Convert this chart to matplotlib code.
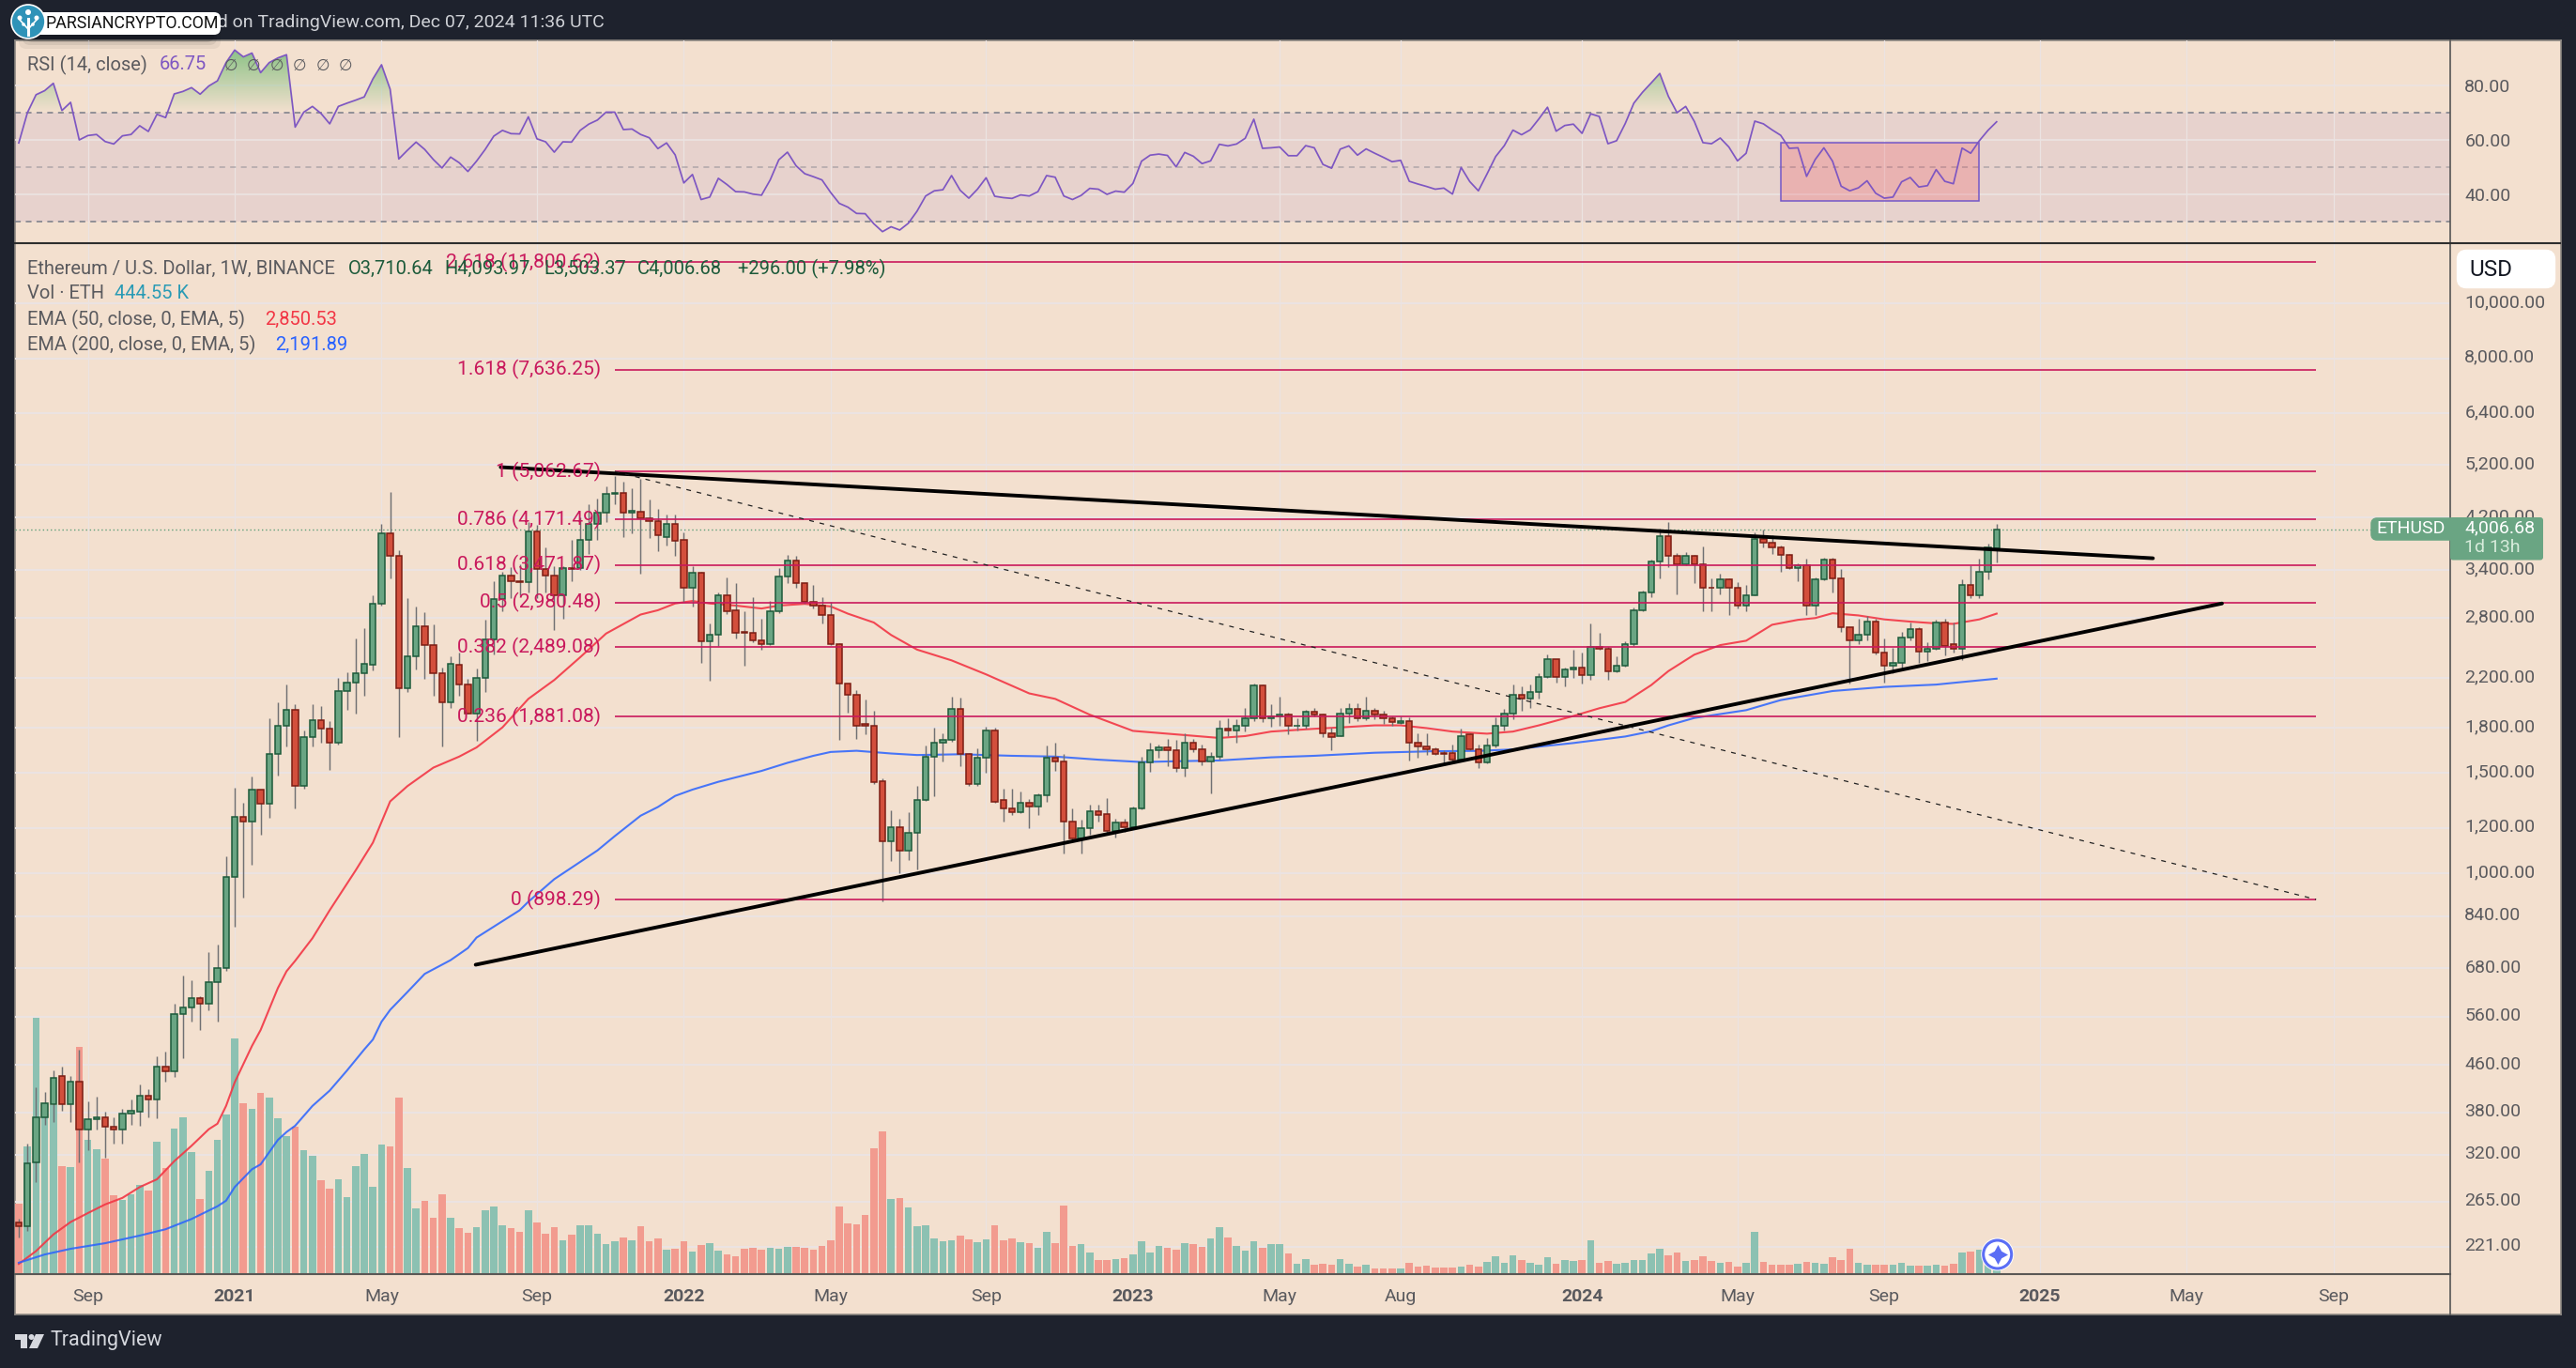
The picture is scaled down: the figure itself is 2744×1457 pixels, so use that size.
#!/usr/bin/python3
# -*- coding: utf-8 -*-

import numpy as np
import matplotlib
matplotlib.use('Agg')
import matplotlib.pyplot as plt

from matplotlib.path import Path
from matplotlib.patches import Rectangle, Circle, FancyBboxPatch, PathPatch, Polygon
from matplotlib.ticker import NullLocator
from matplotlib.transforms import ScaledTranslation

plt.rcParams['font.family'] = ['Roboto', 'DejaVu Sans']

W, H = 2744, 1457

# weekly candles, ETH/USD, one value per week starting mid July 2020
opens = [
    244, 240, 311, 373, 393, 440, 393, 430, 354, 369,
    373, 359, 354, 378, 381, 407, 400, 457, 449, 565,
    581, 604, 590, 643, 680, 983, 1253, 1230, 1400, 1320,
    1620, 1815, 1930, 1420, 1730, 1855, 1790, 1695, 2085, 2155,
    2240, 2315, 2965, 3940, 3600, 2110, 2400, 2710, 2515, 2240,
    1990, 2315, 2140, 1900, 2200, 2570, 3025, 3320, 3250, 3235,
    3975, 3420, 3330, 3065, 3430, 3430, 3840, 4090, 4290, 4630,
    4640, 4280, 4310, 4195, 4135, 3880, 4090, 3845, 3160, 3360,
    2553, 2620, 3070, 2890, 2650, 2640, 2560, 2520, 2880, 3310,
    3530, 3220, 2990, 2940, 2830, 2520, 2150, 2050, 1825, 1815,
    1450, 1135, 1205, 1095, 1175, 1345, 1600, 1690, 1710, 1940,
    1620, 1430, 1590, 1775, 1345, 1300, 1280, 1330, 1310, 1370,
    1595, 1570, 1230, 1150, 1200, 1285, 1270, 1185, 1225, 1205,
    1300, 1560, 1640, 1660, 1640, 1530, 1690, 1650, 1570, 1600,
    1790, 1780, 1810, 1870, 2130, 1870, 1885, 1895, 1810, 1815,
    1920, 1895, 1755, 1740, 1905, 1940, 1865, 1925, 1895, 1865,
    1830, 1850, 1690, 1665, 1650, 1625, 1625, 1580, 1750, 1650,
    1560, 1670, 1810, 1905, 2050, 2025, 2075, 2205, 2370, 2205,
    2275, 2295, 2225, 2490, 2475, 2260, 2310, 2520, 2885, 3110,
    3520, 3905, 3605, 3475, 3605, 3475, 3170, 3160, 3270, 3160,
    2945, 3075, 3850, 3800, 3730, 3610, 3430, 3460, 2945, 3270,
    3550, 3290, 2700, 2560, 2620, 2765, 2435, 2310, 2340, 2590,
    2680, 2445, 2475, 2755, 2520, 2475, 3195, 3075, 3370, 3710.64,
]
highs = [
    247, 335, 421, 412, 450, 457, 440, 490, 398, 405,
    381, 373, 385, 400, 425, 418, 476, 485, 590, 660,
    647, 608, 725, 750, 1068, 1410, 1330, 1475, 1400, 1865,
    1990, 2140, 1980, 1775, 1980, 1965, 1845, 2195, 2250, 2580,
    2690, 3065, 4095, 4660, 3690, 3030, 2930, 2865, 2730, 2290,
    2400, 2440, 2190, 2285, 2780, 3245, 3380, 3435, 3480, 4120,
    4075, 3720, 3455, 3455, 3845, 4200, 4440, 4540, 4775, 4970,
    4850, 4725, 4920, 4520, 4360, 4260, 4250, 3960, 3450, 3370,
    2740, 3110, 3300, 3220, 2880, 3050, 2790, 3000, 3430, 3620,
    3600, 3230, 3195, 3050, 2985, 2530, 2150, 2095, 2015, 1925,
    1465, 1290, 1245, 1280, 1420, 1675, 1795, 1760, 2040, 2030,
    1625, 1655, 1805, 1795, 1405, 1405, 1390, 1350, 1380, 1675,
    1690, 1620, 1300, 1240, 1315, 1315, 1355, 1245, 1245, 1310,
    1600, 1690, 1680, 1720, 1710, 1755, 1720, 1680, 1630, 1855,
    1870, 1860, 1950, 2150, 2140, 1975, 2035, 1910, 1870, 1930,
    1950, 1905, 1800, 1950, 1985, 1985, 2040, 1950, 1925, 1885,
    1885, 1875, 1760, 1755, 1660, 1640, 1680, 1790, 1760, 1680,
    1725, 1875, 1940, 2140, 2125, 2140, 2240, 2415, 2375, 2295,
    2460, 2440, 2735, 2640, 2490, 2400, 2550, 2920, 3125, 3540,
    4025, 4130, 3635, 3660, 3620, 3745, 3290, 3355, 3290, 3240,
    3195, 3960, 4010, 3910, 3750, 3630, 3490, 3560, 3300, 3570,
    3570, 3420, 2700, 2795, 2820, 2790, 2580, 2480, 2645, 2745,
    2695, 2535, 2780, 2790, 2755, 3270, 3460, 3560, 3775, 4093.97,
]
lows = [
    229, 235, 287, 362, 365, 382, 366, 310, 326, 354,
    316, 335, 335, 362, 360, 372, 371, 430, 438, 473,
    548, 530, 574, 548, 672, 805, 905, 1035, 1165, 1250,
    1480, 1665, 1300, 1405, 1665, 1690, 1515, 1680, 1930, 1905,
    2045, 2265, 2950, 3290, 1730, 2075, 2275, 2190, 2045, 1665,
    1945, 2045, 1900, 1705, 2080, 2415, 2880, 3035, 3075, 3105,
    3035, 3105, 2665, 2790, 3245, 3400, 3625, 3845, 4130, 4440,
    3890, 3940, 3355, 3865, 3675, 3760, 3600, 2985, 2930, 2335,
    2170, 2500, 2850, 2580, 2310, 2540, 2460, 2510, 2860, 3230,
    3160, 2970, 2915, 2735, 2510, 1710, 1910, 1715, 1750, 1430,
    890, 1050, 1000, 1055, 1015, 1340, 1365, 1570, 1700, 1540,
    1420, 1420, 1500, 1330, 1230, 1265, 1275, 1200, 1265, 1335,
    1510, 1080, 1135, 1080, 1165, 1230, 1165, 1155, 1180, 1200,
    1295, 1505, 1590, 1540, 1505, 1475, 1630, 1545, 1380, 1580,
    1735, 1695, 1770, 1850, 1840, 1805, 1815, 1750, 1780, 1790,
    1880, 1730, 1640, 1735, 1830, 1850, 1855, 1860, 1825, 1815,
    1825, 1575, 1590, 1610, 1610, 1545, 1570, 1570, 1640, 1525,
    1555, 1660, 1780, 1860, 1925, 1945, 2020, 2195, 2160, 2125,
    2195, 2150, 2185, 2460, 2180, 2250, 2300, 2500, 2880, 3050,
    3290, 3445, 3080, 3460, 3220, 2880, 2880, 3080, 2830, 2915,
    2880, 3065, 3720, 3625, 3380, 3410, 3250, 2840, 2840, 3260,
    3110, 2650, 2150, 2525, 2560, 2420, 2160, 2240, 2275, 2560,
    2340, 2350, 2460, 2410, 2440, 2365, 3035, 3040, 3270, 3503.37,
]
closes = [
    240, 309, 373, 394, 437, 393, 430, 354, 369, 373,
    359, 354, 378, 382, 407, 400, 457, 449, 565, 581,
    604, 590, 643, 680, 983, 1253, 1230, 1400, 1320, 1620,
    1815, 1930, 1420, 1730, 1855, 1790, 1695, 2085, 2155, 2240,
    2325, 2965, 3940, 3600, 2110, 2400, 2710, 2515, 2240, 1990,
    2325, 2140, 1900, 2200, 2570, 3025, 3320, 3250, 3235, 3975,
    3420, 3330, 3065, 3430, 3415, 3840, 4090, 4290, 4620, 4650,
    4285, 4320, 4195, 4135, 3915, 4090, 3830, 3160, 3360, 2553,
    2620, 3070, 2880, 2640, 2640, 2560, 2520, 2880, 3310, 3530,
    3220, 2990, 2940, 2830, 2520, 2150, 2050, 1815, 1815, 1445,
    1135, 1205, 1095, 1175, 1345, 1600, 1690, 1710, 1940, 1620,
    1430, 1590, 1775, 1335, 1300, 1280, 1330, 1310, 1370, 1595,
    1570, 1230, 1150, 1200, 1285, 1265, 1185, 1225, 1205, 1300,
    1560, 1640, 1660, 1640, 1530, 1690, 1650, 1570, 1600, 1790,
    1780, 1810, 1870, 2130, 1870, 1885, 1895, 1810, 1815, 1920,
    1895, 1755, 1730, 1905, 1940, 1865, 1925, 1895, 1865, 1840,
    1850, 1690, 1665, 1650, 1620, 1620, 1580, 1740, 1650, 1560,
    1670, 1810, 1905, 2050, 2025, 2075, 2205, 2370, 2205, 2275,
    2295, 2225, 2490, 2475, 2260, 2310, 2520, 2885, 3110, 3520,
    3905, 3605, 3475, 3605, 3475, 3160, 3160, 3270, 3160, 2945,
    3075, 3850, 3790, 3730, 3610, 3430, 3460, 2945, 3270, 3550,
    3290, 2700, 2560, 2620, 2765, 2435, 2310, 2340, 2590, 2680,
    2445, 2475, 2755, 2500, 2475, 3195, 3075, 3370, 3730, 4006.68,
]
# volume in thousands of ETH
volumes = [
    2220, 4050, 8180, 4980, 5380, 3420, 3390, 7230, 4280, 3960,
    3660, 2490, 2340, 2530, 2820, 2640, 4200, 3360, 4620, 4980,
    3870, 2370, 3270, 4260, 5070, 7500, 5430, 5250, 5760, 5610,
    4950, 4380, 4680, 3930, 3750, 2970, 2700, 3000, 2430, 3420,
    3810, 2760, 4110, 4050, 5610, 3360, 2070, 2310, 1770, 2520,
    1770, 1440, 1290, 1470, 2010, 2130, 1530, 1440, 1320, 2010,
    1620, 1260, 1470, 1050, 1230, 1530, 1530, 1260, 930, 1020,
    1140, 1050, 1500, 1020, 1110, 750, 780, 1020, 690, 900,
    960, 720, 600, 540, 780, 810, 750, 810, 780, 840,
    840, 810, 750, 870, 1050, 2130, 1590, 1560, 1860, 3990,
    4530, 2370, 2400, 2100, 1500, 1530, 1110, 1020, 1050, 1200,
    1080, 990, 1080, 1530, 1050, 1110, 990, 960, 810, 1320,
    960, 2160, 870, 930, 660, 420, 420, 450, 480, 600,
    1020, 660, 870, 810, 750, 960, 930, 840, 1110, 1470,
    1140, 870, 720, 1020, 810, 930, 930, 630, 300, 450,
    270, 300, 270, 450, 300, 210, 270, 150, 150, 150,
    150, 330, 210, 240, 180, 180, 180, 210, 270, 210,
    360, 540, 330, 570, 420, 330, 270, 510, 300, 420,
    390, 420, 1050, 330, 390, 300, 330, 420, 420, 630,
    780, 570, 660, 390, 420, 540, 390, 330, 360, 210,
    330, 1320, 360, 270, 270, 270, 300, 360, 330, 300,
    510, 420, 780, 330, 270, 270, 270, 270, 330, 240,
    240, 240, 270, 240, 300, 660, 690, 750, 780, 444.55,
]
rsi_values = [
    59, 70.1, 76.7, 78.2, 80.9, 70.9, 73.9, 60.1, 61.7, 62.1,
    59.5, 58.6, 61.6, 62.1, 65.3, 63.2, 69.5, 68.3, 77, 77.9,
    79.3, 76.9, 79.9, 81.8, 88.5, 93.1, 90.6, 92, 84.8, 88.5,
    90.2, 91.4, 64.8, 70.3, 72.4, 69.8, 66, 72.4, 73.6, 74.7,
    75.9, 82.5, 87.7, 78.7, 53.1, 56.3, 59.3, 56.6, 52.9, 49.8,
    53.8, 51.7, 48.5, 52.3, 56.6, 61.5, 63.6, 62.4, 62.3, 68.6,
    60.5, 59.4, 55.6, 59.4, 59.3, 63.6, 65.9, 67.4, 70.3, 70.3,
    63.9, 64.1, 62.1, 60.9, 56.9, 59, 54.6, 44.3, 47.4, 38.2,
    39.1, 46, 43.7, 41.1, 41, 40.2, 39.8, 45.4, 52.8, 55.6,
    50.6, 47.7, 46.6, 45.4, 40.8, 36.8, 35.4, 33.1, 33, 29.3,
    26.4, 28.2, 27, 29.5, 33.9, 39.5, 41.4, 41.8, 47, 41.6,
    38.7, 42, 46.2, 39.4, 38.9, 38.6, 39.9, 39.5, 41.1, 47,
    46.4, 39.5, 38.2, 39.7, 42.3, 42, 40.1, 41.3, 40.9, 44.1,
    52.3, 54.5, 54.9, 54.4, 50.2, 55.5, 54.1, 51.4, 52.4, 58.5,
    57.9, 58.6, 60.7, 67.7, 57, 57.2, 57.5, 54.3, 54.3, 58,
    57.2, 51.1, 49.7, 56.7, 57.9, 54.5, 56.8, 55.2, 53.7, 52.1,
    52.6, 44.9, 43.9, 43, 42, 42.4, 40.2, 50, 44.8, 41.4,
    47.6, 54, 58, 63.7, 62, 63.8, 67.8, 72.1, 63.3, 65.4,
    65.9, 62.5, 69.7, 68.7, 58.7, 59.8, 66.1, 73.6, 77.6, 81,
    84.5, 76.1, 70.1, 72.4, 66.9, 59.1, 58.7, 60.8, 57.5, 52.4,
    55.2, 67, 66, 63.8, 61.8, 57, 57.2, 46.7, 52.9, 57.2,
    52.3, 43.1, 41.4, 42.5, 45.1, 40.5, 38.7, 39.1, 44.7, 46.3,
    42.8, 43.3, 49.2, 44.9, 44, 57.1, 55.2, 59.8, 63.6, 66.75,
]

ema50_weeks = [0, 2, 4, 6, 8, 10, 12, 14, 16, 18, 20, 22, 23, 24, 25, 27, 28, 30, 31, 32, 34,
               36, 39, 41, 43, 45, 48, 51, 53, 56, 59, 62, 65, 68, 72, 74, 76, 78, 80, 83, 86,
               88, 91, 94, 96, 99, 101, 104, 108, 112, 117, 120, 124, 129, 135, 139, 142, 145,
               150, 153, 157, 160, 163, 166, 170, 173, 176, 180, 183, 186, 189, 191, 194, 197,
               200, 203, 206, 208, 210, 213, 216, 219, 222, 224, 227, 229]
ema50_values = [206, 217, 232, 244, 253, 262, 269, 281, 290, 312, 332, 355, 363, 390, 429, 497, 530, 628, 672, 701, 768,
                860, 1010, 1130, 1335, 1420, 1530, 1600, 1660, 1800, 2020, 2180, 2390, 2630, 2840, 2890, 2970, 3000, 2970, 2945, 2910,
                2945, 2965, 2935, 2850, 2750, 2615, 2465, 2360, 2230, 2065, 2020, 1895, 1775, 1745, 1725, 1738, 1770,
                1790, 1800, 1815, 1815, 1795, 1770, 1755, 1770, 1815, 1885, 1945, 1995, 2135, 2260, 2415, 2510,
                2555, 2725, 2780, 2800, 2855, 2830, 2785, 2760, 2740, 2735, 2785, 2850.53]
ema200_weeks = [0, 3, 6, 10, 14, 17, 20, 23, 24, 25, 27, 28, 30, 31, 32, 34, 36, 38, 40, 41, 42, 43, 45, 47, 50, 52, 53,
                58, 59, 62, 67, 69, 72, 74, 76, 78, 81, 86, 89, 92, 94, 97, 101, 104, 109, 115, 120, 125, 130, 134,
                139, 145, 150, 157, 164, 169, 173, 180, 186, 189, 191, 194, 200, 204, 210, 216, 222, 224, 229]
ema200_values = [207, 214, 219, 224, 231, 237, 247, 260, 266, 281, 302, 308, 340, 351, 360, 390, 415, 450, 490, 510, 548, 575, 618, 665, 703, 738, 770,
                 860, 890, 975, 1095, 1160, 1260, 1305, 1365, 1400, 1445, 1510, 1560, 1605, 1630, 1638, 1620, 1610, 1615, 1605, 1600, 1580, 1565, 1570,
                 1575, 1595, 1605, 1625, 1635, 1637, 1647, 1690, 1735, 1772, 1815, 1870, 1930, 2010, 2085, 2120, 2140, 2155, 2191.89]

fib_levels = [11800.62, 7636.25, 5062.67, 4171.49, 3471.87, 2980.48, 2489.08, 1881.08, 898.29]
fib_labels = ['2.618 (11,800.62)', '1.618 (7,636.25)', '1 (5,062.67)', '0.786 (4,171.49)', '0.618 (3,471.87)',
              '0.5 (2,980.48)', '0.382 (2,489.08)', '0.236 (1,881.08)', '0 (898.29)']
fib_start, fib_end = 69, 266

resistance_weeks = [55.8, 247.1]
resistance_prices = [5151, 3565]
support_weeks = [52.9, 255.1]
support_prices = [690, 2970]
diagonal_weeks = [69, 266]
diagonal_prices = [5062.67, 898.29]

price_ticks = [10000, 8000, 6400, 5200, 4200, 3400, 2800, 2200, 1800, 1500, 1200, 1000, 840, 680, 560, 460, 380, 320, 265, 221]
price_ticklabels = ['{:,.2f}'.format(p) for p in price_ticks]
rsi_ticks = [80, 60, 40]
rsi_ticklabels = ['80.00', '60.00', '40.00']
time_ticks = [8, 25, 42, 60, 77, 94, 112, 129, 146, 160, 181, 199, 216, 234, 251, 268]
time_ticklabels = ['Sep', '2021', 'May', 'Sep', '2022', 'May', 'Sep', '2023', 'May', 'Aug', '2024', 'May', 'Sep', '2025', 'May', 'Sep']

DARK = '#1e222d'
PEACH = '#f3e0cf'
GRID = '#ebe3e2'
FIB = '#c9195c'
TEXT = '#5a5a5e'
UP, UP_EDGE = '#6aa583', '#1c5a3a'
DOWN, DOWN_EDGE = '#d34f3c', '#7c1d13'
VOL_UP, VOL_DOWN = '#8cc1b2', '#f29b8f'
PURPLE = '#7e57c2'
FS = 14  # points, 100 dpi
FS_LEGEND = 14.5
FS_FIB = 15.1


def px_axes(left, top, right, bottom, zorder):
    a = fig.add_axes([left / W, 1 - bottom / H, (right - left) / W, (bottom - top) / H], zorder=zorder)
    return a


weeks = np.arange(len(closes))
o, h, l, c = [np.array(v, dtype=float) for v in (opens, highs, lows, closes)]
rising = c >= o
rsi = np.array(rsi_values)

xlim = (-0.435, 281.52)
# y limits of the price pane, log scale, top 259 px and bottom 1357 px
price_lim = (197.7, 12733)

fig = plt.figure(figsize=(W / 100, H / 100), dpi=100, facecolor=DARK)

# panel background
bg = px_axes(16, 43, 2727.5, 1400, 0)
bg.set_facecolor(PEACH)
bg.set_xticks([])
bg.set_yticks([])
for s in bg.spines.values():
    s.set_color('#8c8782')
    s.set_linewidth(1.2)

# grid of the price pane lies under the volume bars
grid_ax = px_axes(16, 259, 2610, 1357, 1)
grid_ax.patch.set_visible(False)
grid_ax.set_yscale('log')
grid_ax.set_xlim(xlim)
grid_ax.set_ylim(price_lim)
grid_ax.vlines(time_ticks, *price_lim, color=GRID, lw=0.9)
grid_ax.hlines(price_ticks, *xlim, color=GRID, lw=1.5)
grid_ax.axis('off')

# volume
vol = px_axes(16, 259, 2610, 1357, 2)
vol.patch.set_visible(False)
vol.bar(weeks, volumes, width=0.84, color=[VOL_UP if r else VOL_DOWN for r in rising], linewidth=0)
vol.set_xlim(xlim)
vol.set_ylim(-20, 32920)
vol.axis('off')

# price
ax = px_axes(16, 259, 2610, 1357, 3)
ax.patch.set_visible(False)
ax.set_yscale('log')
ax.plot(ema50_weeks, ema50_values, color='#f23645', lw=1.5, alpha=0.9, zorder=2)
ax.plot(ema200_weeks, ema200_values, color='#2962ff', lw=1.5, alpha=0.85, zorder=2)
ax.vlines(weeks, l, h, color='#707073', lw=1.05, zorder=3)
ax.bar(weeks, np.abs(c - o), bottom=np.minimum(o, c), width=0.68,
       color=[UP if r else DOWN for r in rising],
       edgecolor=[UP_EDGE if r else DOWN_EDGE for r in rising], linewidth=1.1, zorder=4)
ax.axhline(closes[-1], color='#5f9f7a', lw=1.0, ls=(0, (1, 2)), zorder=1)

ax.hlines(fib_levels, fib_start, fib_end, color=FIB, lw=1.2, zorder=5)
for level, label_text in zip(fib_levels, fib_labels):
    ax.annotate(label_text, (fib_start, level), xytext=(-10.5, 0), textcoords='offset points',
                ha='right', va='center', color=FIB, fontsize=FS_FIB, zorder=8)

ax.plot(resistance_weeks, resistance_prices, color='black', lw=2.8, solid_capstyle='round', zorder=6)
ax.plot(support_weeks, support_prices, color='black', lw=2.8, solid_capstyle='round', zorder=6)
ax.plot(diagonal_weeks, diagonal_prices, color='#222222', lw=0.9, ls=(0, (4, 5)), zorder=6)

ax.set_xlim(xlim)
ax.set_ylim(price_lim)
ax.yaxis.tick_right()
ax.set_yticks(price_ticks, price_ticklabels)
ax.yaxis.set_minor_locator(NullLocator())
ax.set_xticks(time_ticks, time_ticklabels)
ax.tick_params(axis='y', length=0, pad=11, labelsize=FS, labelcolor=TEXT)
ax.tick_params(axis='x', length=0, pad=10.5, labelsize=FS, labelcolor=TEXT)
for t in ax.get_xticklabels():
    if t.get_text().isdigit():
        t.set_fontweight('bold')
# price labels sit slightly above their grid line
nudge = ScaledTranslation(0, 2 / 72, fig.dpi_scale_trans)
for t in ax.get_yticklabels():
    t.set_transform(t.get_transform() + nudge)
for s in ['top', 'left', 'bottom']:
    ax.spines[s].set_visible(False)
ax.spines['right'].set_color('#555555')
ax.spines['right'].set_linewidth(1.2)

# RSI pane
rs = px_axes(16, 43, 2610, 259, 3)
rs.patch.set_visible(False)
rs.vlines(time_ticks, 22, 97, color=GRID, lw=0.9, zorder=1)
rs.axhspan(30, 70, color='#7e57c2', alpha=0.1, lw=0, zorder=0)
rs.hlines(rsi_ticks, *xlim, color=GRID, lw=1.2, zorder=1)
rs.axhline(70, color='#787b86', lw=1.1, ls=(0, (4, 3.5)), zorder=2)
rs.axhline(30, color='#787b86', lw=1.1, ls=(0, (4, 3.5)), zorder=2)
rs.axhline(50, color='#787b86', lw=1.1, ls=(0, (4, 3.5)), alpha=0.5, zorder=2)

# box on the consolidation
rs.add_patch(Rectangle((204, 37.6), 23, 21.4, facecolor='#f23645', alpha=0.2, lw=0, zorder=2))
rs.add_patch(Rectangle((204, 37.6), 23, 21.4, facecolor='none', edgecolor='#7357c8', lw=1.1, zorder=3))

# green shading above the 70 line
zone = rs.fill_between(weeks, rsi, 70, where=rsi > 70, interpolate=True, facecolor='none', lw=0)
shape = PathPatch(Path.make_compound_path(*zone.get_paths()), transform=rs.transData, facecolor='none', lw=0)
rs.add_patch(shape)
shade = np.zeros((64, 2, 4))
shade[..., 0], shade[..., 1], shade[..., 2] = 0.40, 0.72, 0.42
shade[..., 3] = np.linspace(0.75, 0.0, 64)[:, None]
im = rs.imshow(shade, extent=(xlim[0], xlim[1], 70, 93.5), aspect='auto', interpolation='bilinear', zorder=2)
im.set_clip_path(shape)

rs.plot(weeks, rsi, color=PURPLE, lw=1.25, zorder=4)
rs.set_xlim(xlim)
rs.set_ylim(22.17, 96.66)
rs.yaxis.tick_right()
rs.set_yticks(rsi_ticks, rsi_ticklabels)
rs.set_xticks([])
rs.tick_params(axis='y', length=0, pad=11, labelsize=FS, labelcolor=TEXT)
for s in ['top', 'left', 'bottom']:
    rs.spines[s].set_visible(False)
rs.spines['right'].set_color('#555555')
rs.spines['right'].set_linewidth(1.2)

# text, tags and marks that sit in screen coordinates
deco = px_axes(0, 0, W, H, 10)
deco.set_xlim(0, W)
deco.set_ylim(H, 0)
deco.axis('off')
deco.patch.set_visible(False)

deco.plot([16, 2727], [259, 259], color='#2e2e2e', lw=1.5)
deco.plot([16, 2610], [1357, 1357], color='#5b5855', lw=1.5)
deco.plot([2610, 2610], [1357, 1400], color='#555555', lw=1.2)


def label(x, y, s, color=TEXT, size=FS_LEGEND, **kw):
    deco.text(x, y, s, color=color, fontsize=size, va='center', **kw)


label(644, 24, 'Published on TradingView.com, Dec 07, 2024 11:36 UTC', color='#cfd1d6', ha='right', size=FS)

label(29, 69, 'RSI (14, close)')
label(170, 69, '66.75', color=PURPLE)
for x in [239, 263, 288, 312, 337, 361]:
    label(x, 70, '∅', size=12)

label(29, 286, 'Ethereum / U.S. Dollar, 1W, BINANCE')
ohlc_color = '#1c5a3a'
label(371, 286, 'O3,710.64', color=ohlc_color)
label(473, 286, 'H4,093.97', color=ohlc_color)
label(579, 286, 'L3,503.37', color=ohlc_color)
label(679, 286, 'C4,006.68', color=ohlc_color)
label(786, 286, '+296.00 (+7.98%)', color=ohlc_color)
label(29, 313, 'Vol · ETH')
label(122, 313, '444.55 K', color='#2a9bb5')
label(29, 340, 'EMA (50, close, 0, EMA, 5)')
label(282, 340, '2,850.53', color='#f23645')
label(29, 367, 'EMA (200, close, 0, EMA, 5)')
label(293, 367, '2,191.89', color='#2962ff')

# currency box
deco.add_patch(FancyBboxPatch((2621, 270), 97, 33, boxstyle='round,pad=0,rounding_size=6', facecolor='white', edgecolor='white', lw=6))
label(2630, 287, 'USD', color='#131722', size=17.5)

# last price tag
deco.add_patch(FancyBboxPatch((2528, 554), 90, 19, boxstyle='round,pad=0,rounding_size=4', facecolor=UP, edgecolor=UP, lw=4))
deco.add_patch(FancyBboxPatch((2610, 551), 99, 45.5, boxstyle='round,pad=0,rounding_size=3', facecolor=UP, edgecolor='none'))
label(2568, 563, 'ETHUSD', color='white', ha='center', size=FS)
label(2625, 562, '4,006.68', color='white', size=FS)
label(2625, 583, '1d 13h', color='#d8ecdc', size=FS)

# blue star mark at the end of the volume
deco.add_patch(Circle((2127.7, 1336), 17.5, facecolor='white', edgecolor='none', zorder=5))
deco.add_patch(Circle((2127.7, 1336), 15, facecolor='white', edgecolor='#5b6ef5', lw=2.2, zorder=6))
deco.scatter([2127.7], [1336], s=230, marker=(4, 1, 0), color='#5b6ef5', linewidths=0, zorder=7)

# watermark badge top left
for grow, alpha in [(10, 0.05), (6, 0.07), (3, 0.1)]:
    deco.add_patch(FancyBboxPatch((30 - grow, 20), 195 + 2 * grow, 22 + grow, boxstyle='round,pad=0,rounding_size=8',
                                  facecolor='black', edgecolor='none', alpha=alpha, zorder=20))
deco.add_patch(FancyBboxPatch((30, 13), 205, 24, boxstyle='round,pad=0,rounding_size=7', facecolor='white', edgecolor='none', zorder=21))
label(49, 25, 'PARSIANCRYPTO.COM', color='#111111', size=12.8, zorder=22)
deco.add_patch(Circle((30, 23), 18, facecolor='#2f93b8', edgecolor='white', lw=1.2, zorder=23))
deco.plot([30, 30], [20, 37], color='white', lw=2.2, zorder=24)
deco.plot([21, 30, 39], [21, 31, 21], color='white', lw=1.2, zorder=24)
for cx, cy, r in [(30, 13, 3), (21, 19, 2.5), (39, 19, 2.5), (25, 26, 1.8), (35, 26, 1.8)]:
    deco.add_patch(Circle((cx, cy), r, facecolor='white', edgecolor='none', zorder=24))

# TradingView logo
logo = '#d6d8de'
deco.add_patch(Polygon([(16, 1421), (29, 1421), (29, 1436), (22, 1436), (22, 1427), (16, 1427)], facecolor=logo, edgecolor='none'))
deco.add_patch(Circle((33.5, 1424), 3, facecolor=logo, edgecolor='none'))
deco.add_patch(Polygon([(38, 1421), (47, 1421), (40, 1436), (31, 1436)], facecolor=logo, edgecolor='none'))
label(53.5, 1428, 'TradingView', color=logo, size=15.5)

fig.savefig('out.png', dpi=100, facecolor=DARK)
